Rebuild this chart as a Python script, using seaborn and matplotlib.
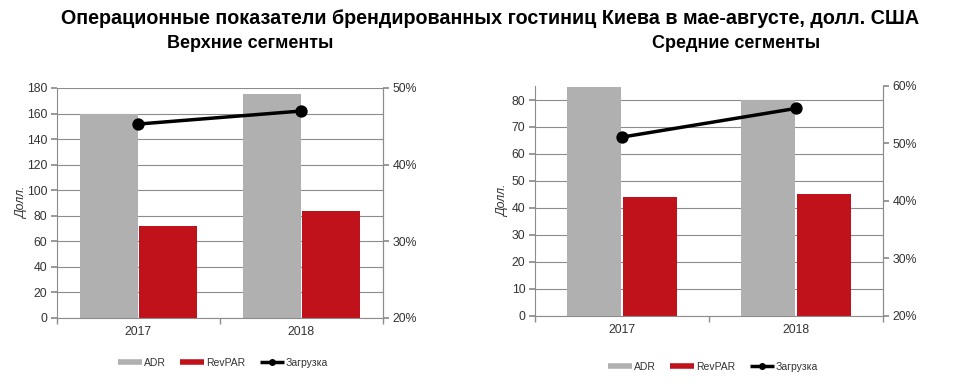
import matplotlib
matplotlib.use("Agg")
import matplotlib.pyplot as plt
from matplotlib.lines import Line2D
from matplotlib.ticker import FixedLocator
import seaborn as sns
import pandas as pd

# Data
years = ["2017", "2018"]
series = ["ADR", "RevPAR"]
upper_adr = [160, 175]
upper_revpar = [72, 84]
upper_occ = [45.3, 47.0]
mid_adr = [85, 80]
mid_revpar = [44, 45]
mid_occ = [51.1, 56.1]

title = "Операционные показатели брендированных гостиниц Киева в мае-августе, долл. США"
subtitles = ["Верхние сегменты", "Средние сегменты"]
ylabel = "Долл."
legend_labels = ["ADR", "RevPAR", "Загрузка"]

GRAY = "#b0b0b0"
RED = "#c0121b"
AXC = "#8c8c8c"
TXT = "#333333"

sns.set_theme(style="white")
plt.rcParams["font.family"] = ["Liberation Sans", "DejaVu Sans"]
plt.rcParams["text.color"] = "black"

fig = plt.figure(figsize=(9.54, 3.86), dpi=100)

panels = [
    dict(rect=[57 / 954, 1 - 318 / 386, 326 / 954, 230 / 386],
         adr=upper_adr, rev=upper_revpar, occ=upper_occ,
         ylim=(0, 180), yticks=range(0, 181, 20),
         y2lim=(20, 50), y2ticks=[20, 30, 40, 50], width=0.73,
         sub_x=250, leg=(223, 362.5), ylab_x=22),
    dict(rect=[535 / 954, 1 - 315.7 / 386, 348 / 954, 229.7 / 386],
         adr=mid_adr, rev=mid_revpar, occ=mid_occ,
         ylim=(0, 85.2), yticks=range(0, 81, 10),
         y2lim=(20, 60), y2ticks=[20, 30, 40, 50, 60], width=0.64,
         sub_x=736, leg=(713, 367), ylab_x=503),
]

for i, p in enumerate(panels):
    ax = fig.add_axes(p["rect"])
    df = pd.DataFrame({
        "year": years * 2,
        "series": [series[0]] * 2 + [series[1]] * 2,
        "value": p["adr"] + p["rev"],
    })
    sns.barplot(data=df, x="year", y="value", hue="series", ax=ax,
                palette=[GRAY, RED], width=p["width"], gap=0.03,
                saturation=1, legend=False, linewidth=0, zorder=2)
    ax.set_ylim(*p["ylim"])
    ax.set_xlim(-0.5, 1.5)
    ax.set_yticks(list(p["yticks"]))
    ax.yaxis.grid(True, color=AXC, linewidth=0.8, zorder=0)
    ax.set_axisbelow(True)
    ax.set_xlabel("")
    ax.set_ylabel("")
    for s in ["left", "bottom", "right"]:
        ax.spines[s].set_color(AXC)
        ax.spines[s].set_linewidth(0.8)
    ax.spines["top"].set_visible(False)
    ax.tick_params(axis="y", direction="out", length=4, color=AXC,
                   labelsize=8.8, labelcolor=TXT, left=True, pad=3)
    ax.tick_params(axis="x", which="major", length=0, labelsize=8.8,
                   labelcolor=TXT, pad=6)
    ax.xaxis.set_minor_locator(FixedLocator([-0.5, 0.5, 1.5]))
    ax.tick_params(axis="x", which="minor", direction="out", length=4,
                   color=AXC, bottom=True)
    fig.text(p["ylab_x"] / 954, p["rect"][1] + p["rect"][3] / 2, ylabel,
             rotation=90, ha="center", va="center", fontsize=8.8,
             style="italic", color=TXT)

    ax2 = ax.twinx()
    sns.pointplot(x=years, y=p["occ"], ax=ax2, color="black",
                  markers="o", markersize=7, linewidth=2.5)
    ax2.set_xlim(-0.5, 1.5)
    ax2.set_ylim(*p["y2lim"])
    ax2.set_yticks(p["y2ticks"])
    ax2.set_yticklabels([f"{t}%" for t in p["y2ticks"]])
    ax2.set_ylabel("")
    ax2.grid(False)
    for s in ["left", "bottom", "top"]:
        ax2.spines[s].set_visible(False)
    ax2.spines["right"].set_color(AXC)
    ax2.spines["right"].set_linewidth(0.8)
    ax2.tick_params(axis="y", direction="out", length=4, color=AXC,
                    labelsize=8.8, labelcolor=TXT, right=True, pad=3)

    handles = [
        Line2D([], [], color=GRAY, linewidth=4, solid_capstyle="butt"),
        Line2D([], [], color=RED, linewidth=4, solid_capstyle="butt"),
        Line2D([], [], color="black", linewidth=2.5, marker="o",
               markersize=4, solid_capstyle="butt"),
    ]
    fig.legend(handles, legend_labels, loc="center",
               bbox_to_anchor=(p["leg"][0] / 954, 1 - p["leg"][1] / 386),
               ncol=3, frameon=False, fontsize=7.5, handlelength=2.3,
               handletextpad=0.2, columnspacing=1.4, labelcolor=TXT)

    fig.text(p["sub_x"] / 954, 1 - 43 / 386, subtitles[i],
             ha="center", va="center", fontsize=13, fontweight="bold")

fig.text(490 / 954, 1 - 19 / 386, title, ha="center", va="center",
         fontsize=14.2, fontweight="bold")

fig.savefig("out.png", dpi=100)
